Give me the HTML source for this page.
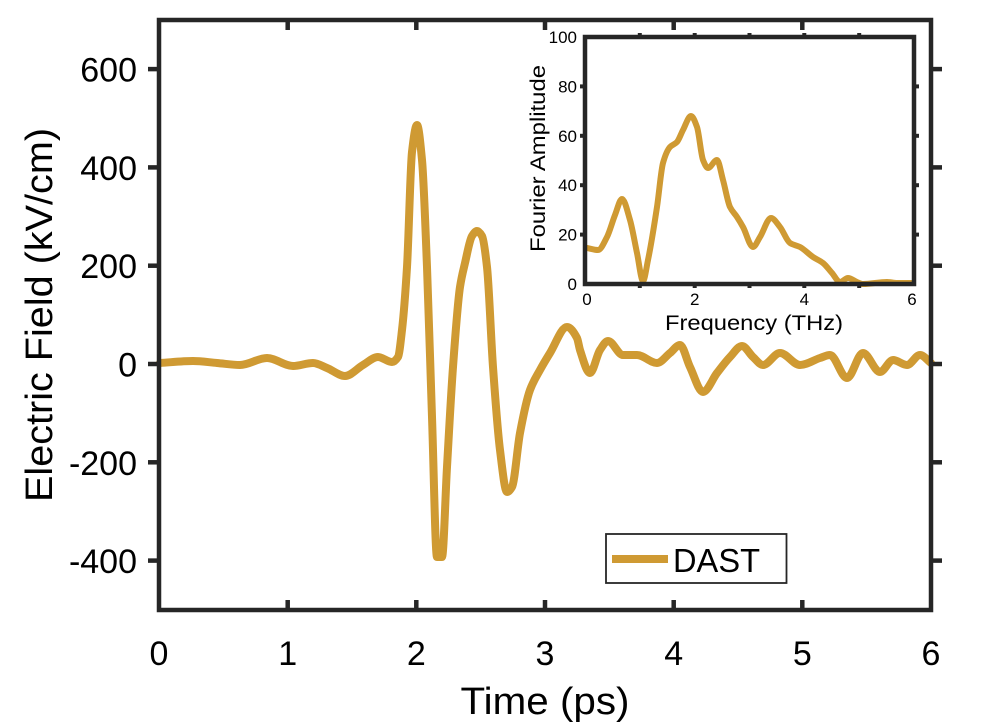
<!DOCTYPE html>
<html><head><meta charset="utf-8"><style>
html,body{margin:0;padding:0;background:#fff;}
svg{display:block;font-family:"Liberation Sans",Arial,sans-serif;}
</style></head><body>
<svg id="s" width="997" height="722" viewBox="0 0 997 722" xmlns="http://www.w3.org/2000/svg">
<rect width="997" height="722" fill="#fff"/>
<!-- main curve -->
<polyline class="smooth" fill="none" stroke="#CF9A33" stroke-width="8" stroke-linejoin="round" stroke-linecap="round"
points="160,363 193,361 217,363 240,365 267,358 293,366 313,363 327,368 345,376 363,365 378,357 392,362 398,357 402,330 407,267 412,152 417,125 422,160 427,267 432,417 437,557 442,557 447,467 453,367 460,287 465,263 472,236 477,231 482,236 487,267 493,367 500,450 507,492 512,487 520,433 530,390 540,370 550,353 567,327 577,338 580,350 590,373 600,350 608,341 623,355 637,355 657,363 670,353 680,345 690,367 703,392 717,373 730,357 742,346 753,357 763,365 780,353 800,365 820,358 830,355 847,378 863,353 880,372 893,360 907,365 920,355 931,363"/>
<!-- main frame -->
<rect x="159" y="20" width="772" height="590" fill="none" stroke="#262626" stroke-width="4.5"/>
<g stroke="#262626" stroke-width="4.5">
<line x1="287.7" y1="20" x2="287.7" y2="30"/><line x1="416.3" y1="20" x2="416.3" y2="30"/><line x1="545" y1="20" x2="545" y2="30"/><line x1="673.7" y1="20" x2="673.7" y2="30"/><line x1="802.3" y1="20" x2="802.3" y2="30"/>
<line x1="287.7" y1="600" x2="287.7" y2="610"/><line x1="416.3" y1="600" x2="416.3" y2="610"/><line x1="545" y1="600" x2="545" y2="610"/><line x1="673.7" y1="600" x2="673.7" y2="610"/><line x1="802.3" y1="600" x2="802.3" y2="610"/>
<line x1="148" y1="69.1" x2="159" y2="69.1"/><line x1="148" y1="167.4" x2="159" y2="167.4"/><line x1="148" y1="265.7" x2="159" y2="265.7"/><line x1="148" y1="364" x2="159" y2="364"/><line x1="148" y1="462.3" x2="159" y2="462.3"/><line x1="148" y1="560.6" x2="159" y2="560.6"/>
<line x1="931" y1="69.1" x2="942" y2="69.1"/><line x1="931" y1="167.4" x2="942" y2="167.4"/><line x1="931" y1="265.7" x2="942" y2="265.7"/><line x1="931" y1="364" x2="942" y2="364"/><line x1="931" y1="462.3" x2="942" y2="462.3"/><line x1="931" y1="560.6" x2="942" y2="560.6"/>
</g>
<!-- main tick labels -->
<g font-size="34" fill="#000" text-anchor="end">
<text x="137" y="81.6">600</text><text x="137" y="179.9">400</text><text x="137" y="278.2">200</text><text x="137" y="376.5">0</text><text x="137" y="474.8">-200</text><text x="137" y="573.1">-400</text>
</g>
<g font-size="34" fill="#000" text-anchor="middle">
<text x="159" y="665">0</text><text x="287.7" y="665">1</text><text x="416.3" y="665">2</text><text x="545" y="665">3</text><text x="673.7" y="665">4</text><text x="802.3" y="665">5</text><text x="931" y="665">6</text>
</g>
<text x="545" y="714" font-size="38" text-anchor="middle" textLength="169" lengthAdjust="spacingAndGlyphs">Time (ps)</text>
<text transform="translate(52,315) rotate(-90)" font-size="38" text-anchor="middle" textLength="374" lengthAdjust="spacingAndGlyphs">Electric Field (kV/cm)</text>
<!-- legend -->
<rect x="606" y="534" width="180.5" height="49" fill="#fff" stroke="#262626" stroke-width="1.8"/>
<line x1="612" y1="559" x2="668" y2="559" stroke="#CF9A33" stroke-width="8"/>
<text x="673" y="572" font-size="33" textLength="87" lengthAdjust="spacingAndGlyphs">DAST</text>
<!-- inset -->
<rect x="585" y="37" width="329" height="247" fill="#fff"/>
<polyline class="smooth" fill="none" stroke="#CF9A33" stroke-width="6" stroke-linejoin="round" stroke-linecap="round"
points="587,248 598,250 607,237 615,215 622,199 630,220 637,253 643,281 648,260 657,207 663,163 670,147 677,142 683,130 691,116 697,127 703,160 708,168 717,160 723,180 730,207 737,217 743,227 753,247 760,237 771,218 780,227 790,243 800,247 813,257 823,263 832,273 840,282 848,278 857,282 863,284 887,282 897,283 912,283"/>
<rect x="585" y="37" width="329" height="247" fill="none" stroke="#262626" stroke-width="4.5"/>
<g stroke="#262626" stroke-width="4">
<line x1="639.8" y1="33" x2="639.8" y2="37"/><line x1="694.7" y1="33" x2="694.7" y2="37"/><line x1="749.5" y1="33" x2="749.5" y2="37"/><line x1="804.3" y1="33" x2="804.3" y2="37"/><line x1="859.2" y1="33" x2="859.2" y2="37"/>
<line x1="639.8" y1="284" x2="639.8" y2="288"/><line x1="694.7" y1="284" x2="694.7" y2="288"/><line x1="749.5" y1="284" x2="749.5" y2="288"/><line x1="804.3" y1="284" x2="804.3" y2="288"/><line x1="859.2" y1="284" x2="859.2" y2="288"/>
<line x1="580" y1="86.4" x2="585" y2="86.4"/><line x1="580" y1="135.8" x2="585" y2="135.8"/><line x1="580" y1="185.2" x2="585" y2="185.2"/><line x1="580" y1="234.6" x2="585" y2="234.6"/>
<line x1="914" y1="86.4" x2="919" y2="86.4"/><line x1="914" y1="135.8" x2="919" y2="135.8"/><line x1="914" y1="185.2" x2="919" y2="185.2"/><line x1="914" y1="234.6" x2="919" y2="234.6"/>
</g>
<g font-size="17" fill="#000" text-anchor="end">
<text x="577" y="43">100</text><text x="577" y="92.4">80</text><text x="577" y="141.8">60</text><text x="577" y="191.2">40</text><text x="577" y="240.6">20</text><text x="577" y="290">0</text>
</g>
<g font-size="17" fill="#000" text-anchor="middle">
<text x="587" y="305">0</text><text x="694.7" y="305">2</text><text x="804.3" y="305">4</text><text x="912" y="305">6</text>
</g>
<text x="754" y="330" font-size="21" text-anchor="middle" textLength="178" lengthAdjust="spacingAndGlyphs">Frequency (THz)</text>
<text transform="translate(545,158.5) rotate(-90)" font-size="21" text-anchor="middle" textLength="187" lengthAdjust="spacingAndGlyphs">Fourier Amplitude</text>
</svg>
<script>
(function(){
  var NS="http://www.w3.org/2000/svg";
  var pls=document.querySelectorAll("polyline.smooth");
  for(var k=0;k<pls.length;k++){
    var pl=pls[k];
    var raw=pl.getAttribute("points").trim().split(/\s+/);
    var p=raw.map(function(s){var a=s.split(",");return [parseFloat(a[0]),parseFloat(a[1])];});
    var n=p.length, h=[], dl=[], m=[];
    for(var i=0;i<n-1;i++){h[i]=p[i+1][0]-p[i][0];dl[i]=(p[i+1][1]-p[i][1])/h[i];}
    m[0]=dl[0]; m[n-1]=dl[n-2];
    for(var i=1;i<n-1;i++){
      if(dl[i-1]*dl[i]<=0){m[i]=0;}
      else{
        var w1=2*h[i]+h[i-1], w2=h[i]+2*h[i-1];
        m[i]=(w1+w2)/(w1/dl[i-1]+w2/dl[i]);
      }
    }
    var d="M"+p[0][0]+","+p[0][1];
    for(var i=0;i<n-1;i++){
      var c1x=p[i][0]+h[i]/3, c1y=p[i][1]+m[i]*h[i]/3;
      var c2x=p[i+1][0]-h[i]/3, c2y=p[i+1][1]-m[i+1]*h[i]/3;
      d+=" C"+c1x.toFixed(2)+","+c1y.toFixed(2)+" "+c2x.toFixed(2)+","+c2y.toFixed(2)+" "+p[i+1][0]+","+p[i+1][1];
    }
    var path=document.createElementNS(NS,"path");
    path.setAttribute("d",d);
    ["fill","stroke","stroke-width","stroke-linejoin","stroke-linecap"].forEach(function(a){path.setAttribute(a,pl.getAttribute(a));});
    pl.parentNode.replaceChild(path,pl);
  }
})();
</script>
</body></html>
